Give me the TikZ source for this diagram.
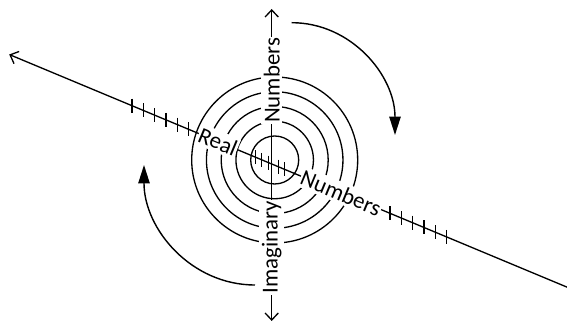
\documentclass[tikz,border=0pt]{standalone}
\usepackage{fontspec}
\setmainfont{Carlito}
\usetikzlibrary{arrows.meta}
\definecolor{Ink}{HTML}{000000}
\tikzset{
  axislabel/.style={fill=white,inner xsep=0.5pt,inner ysep=1.5pt,font=\fontsize{13}{15}\selectfont},
  axisline/.style={Ink,line width=0.75pt,{Straight Barb[length=4pt,width=7.5pt]}-{Straight Barb[length=4pt,width=7.5pt]}},
  turnarrow/.style={Ink,line width=0.8pt,-{Triangle[length=10.5pt,width=6.5pt]}},
  ring/.style={Ink,line width=0.75pt}
}
\newcommand{\realtick}[1]{%
  \draw[Ink,line width=0.75pt] (#1,{-0.417*(#1)+0.14}) -- ++(0,-0.28);
}
\begin{document}
\begin{tikzpicture}
  \useasboundingbox (-5.434,-3.2) rectangle (5.906,3.28);
  \foreach \r in {0.48,0.775,1.07,1.365,1.66}{\draw[ring] (0.06,0.08) circle (\r);}
  \coordinate (imTop) at (0,3.1);
  \coordinate (imBot) at (0,-3.14);
  \coordinate (reL) at (-5.25,2.19);
  \coordinate (reR) at (6.12,-2.552);
  \draw[axisline] (imBot) -- (imTop);
  \draw[axisline] (reR) -- (reL);
  \foreach \x in {-2.794,-2.568,-2.342,-2.116,-1.89,-1.664,-0.33,-0.2,-0.07,0.13,0.26,2.366,2.592,2.818,3.044,3.27,3.496}{\realtick{\x}}
  \node[axislabel,rotate=90] (imNum) at (0,1.67) {Numbers};
  \node[axislabel,rotate=90] (imName) at (0,-1.67) {Imaginary};
  \node[axislabel,rotate=-22.6] (reName) at (-1.074,0.448) {Real};
  \node[axislabel,rotate=-22.6] (reNum) at (1.386,-0.578) {Numbers};
  \coordinate (turnA) at (0.4,2.826);
  \coordinate (turnB) at (2.466,0.58);
  \coordinate (turnC) at (-0.334,-2.42);
  \coordinate (turnD) at (-2.554,-0.02);
  \draw[turnarrow] (turnA) to[out=0,in=90] (turnB);
  \draw[turnarrow] (turnC) to[out=180,in=-90] (turnD);
\end{tikzpicture}
\end{document}
